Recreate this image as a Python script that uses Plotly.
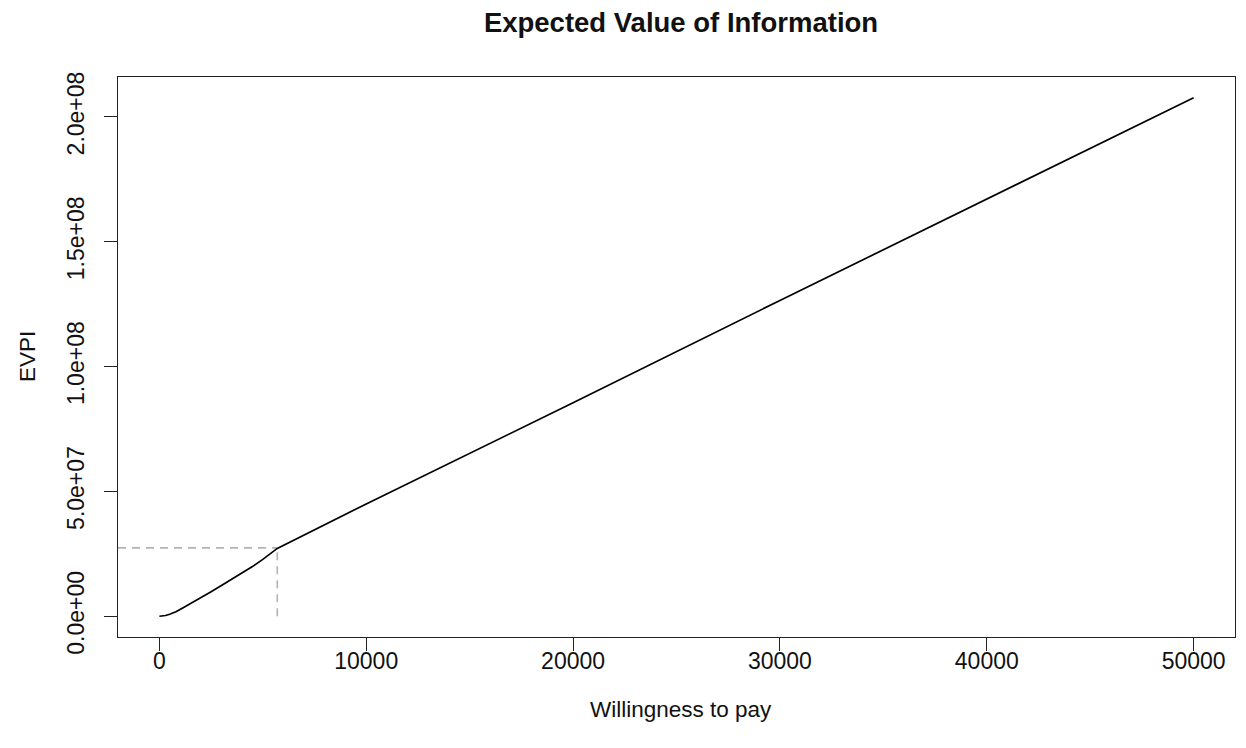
import plotly.graph_objects as go

# Data
wtp = [0, 150, 300, 500, 800, 1150, 1500, 2000, 2500, 3000, 3500, 4000, 4500, 5000, 5700,
       10000, 20000, 30000, 40000, 50000]
evpi = [0, 8e4, 3e5, 8e5, 1.8e6, 3.4e6, 5.0e6, 7.3e6, 9.8e6, 1.23e7, 1.48e7, 1.73e7, 1.99e7,
        2.28e7, 2.72e7, 4.5e7, 8.55e7, 1.265e8, 1.67e8, 2.077e8]

# Marked point (dashed guide lines)
mark_wtp = 5700
mark_evpi = 2.74e7

x_ticks = [0, 10000, 20000, 30000, 40000, 50000]
x_ticklabels = ["0", "10000", "20000", "30000", "40000", "50000"]
y_ticks = [0, 5e7, 1e8, 1.5e8, 2e8]
y_ticklabels = ["0.0e+00", "5.0e+07", "1.0e+08", "1.5e+08", "2.0e+08"]

x_range = [-2000, 52000]
y_range = [-8.3e6, 2.16e8]

FONT = "Liberation Sans, Arial, Helvetica, sans-serif"

# page body has an 8px default margin, so the figure is offset by 8px
W, H = 1238, 740

fig = go.Figure()

# dashed guides
fig.add_trace(go.Scatter(x=[x_range[0], mark_wtp], y=[mark_evpi, mark_evpi], mode="lines",
                         line=dict(color="#b3b3b3", width=1.6, dash="8px,6px"),
                         hoverinfo="skip", showlegend=False))
fig.add_trace(go.Scatter(x=[mark_wtp, mark_wtp], y=[0, mark_evpi], mode="lines",
                         line=dict(color="#b3b3b3", width=1.6, dash="8px,6px"),
                         hoverinfo="skip", showlegend=False))
# main curve
fig.add_trace(go.Scatter(x=wtp, y=evpi, mode="lines",
                         line=dict(color="black", width=1.7),
                         showlegend=False))

axis_common = dict(showgrid=False, zeroline=False, showline=True, linecolor="#222222",
                   linewidth=1.3, mirror=True, ticks="outside", ticklen=13, tickwidth=1.3,
                   tickcolor="#222222", automargin=False,
                   tickfont=dict(family=FONT, size=23, color="#111111"))

fig.update_layout(
    width=W, height=H,
    margin=dict(l=110, r=11, t=69, b=111, autoexpand=False),
    paper_bgcolor="white", plot_bgcolor="white",
    title=dict(text="<b>Expected Value of Information</b>", x=0.5 + 4.5 / 1117, xref="paper",
               y=1 - 14 / H, yref="container", yanchor="middle", xanchor="center",
               font=dict(family=FONT, size=27.5, color="#111111")),
    xaxis=dict(range=x_range, tickvals=x_ticks, ticktext=x_ticklabels,
               ticklabelstandoff=-10, **axis_common),
    yaxis=dict(range=y_range, tickvals=y_ticks, ticktext=y_ticklabels, tickangle=-90,
               ticklabelstandoff=11, **axis_common),
    annotations=[
        dict(text="Willingness to pay", xref="paper", yref="paper", x=0.5 + 4.5 / 1117,
             y=-72 / 560, xanchor="center", yanchor="middle", showarrow=False,
             font=dict(family=FONT, size=22.5, color="#111111")),
        dict(text="EVPI", xref="paper", yref="paper", x=-91 / 1117, y=0.5,
             xanchor="center", yanchor="middle", textangle=-90, showarrow=False,
             font=dict(family=FONT, size=22.5, color="#111111")),
    ],
)

fig.write_html("out.html")
